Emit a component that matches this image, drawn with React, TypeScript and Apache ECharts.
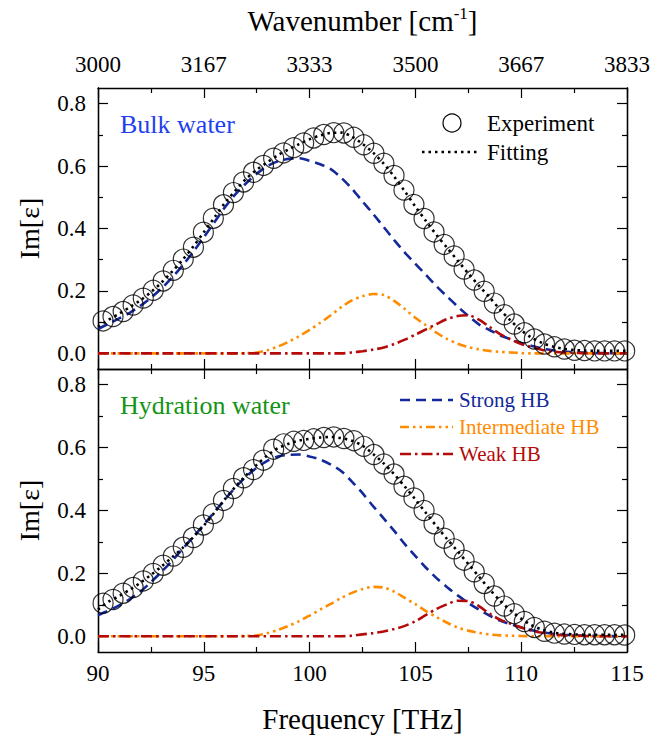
import React, { useEffect, useRef } from 'react';
import * as echarts from 'echarts';

// ---------- data ----------
const freqExp = [
  90.24, 90.71, 91.19, 91.66, 92.14, 92.61, 93.08, 93.56, 94.03, 94.51,
  94.98, 95.45, 95.93, 96.40, 96.88, 97.35, 97.82, 98.30, 98.77, 99.25,
  99.72, 100.19, 100.67, 101.14, 101.62, 102.09, 102.56, 103.04, 103.51, 103.99,
  104.46, 104.93, 105.41, 105.88, 106.36, 106.83, 107.30, 107.78, 108.25, 108.73,
  109.20, 109.67, 110.15, 110.62, 111.10, 111.57, 112.04, 112.52, 112.99, 113.47,
  113.94, 114.41, 114.89,
];
const bulkExp = [
  0.104, 0.118, 0.134, 0.155, 0.177, 0.202, 0.232, 0.266, 0.302, 0.340,
  0.388, 0.433, 0.476, 0.515, 0.549, 0.580, 0.602, 0.625, 0.642, 0.659,
  0.674, 0.690, 0.701, 0.707, 0.706, 0.692, 0.668, 0.641, 0.609, 0.570,
  0.523, 0.477, 0.432, 0.389, 0.349, 0.312, 0.270, 0.235, 0.199, 0.161,
  0.124, 0.094, 0.066, 0.046, 0.030, 0.021, 0.014, 0.010, 0.009, 0.008,
  0.008, 0.008, 0.008,
];
const hydExp = [
  0.105, 0.117, 0.137, 0.155, 0.176, 0.200, 0.226, 0.255, 0.283, 0.314,
  0.354, 0.390, 0.432, 0.470, 0.504, 0.530, 0.560, 0.595, 0.612, 0.620,
  0.623, 0.628, 0.632, 0.634, 0.629, 0.622, 0.604, 0.578, 0.548, 0.516,
  0.477, 0.440, 0.400, 0.358, 0.312, 0.278, 0.242, 0.205, 0.168, 0.128,
  0.096, 0.072, 0.047, 0.028, 0.016, 0.010, 0.007, 0.006, 0.005, 0.005,
  0.005, 0.005, 0.004,
];

const freqFit = [
  90, 90.5, 91, 91.5, 92, 92.5, 93, 93.5, 94, 94.5,
  95, 95.5, 96, 96.5, 97, 97.5, 98, 98.5, 99, 99.5,
  100, 100.5, 101, 101.5, 102, 102.5, 103, 103.5, 104, 104.5,
  105, 105.5, 106, 106.5, 107, 107.5, 108, 108.5, 109, 109.5,
  110, 110.5, 111, 111.5, 112, 112.5, 113, 113.5, 114, 114.5,
  115,
];
const bulkFit = [
  0.085, 0.108, 0.127, 0.148, 0.170, 0.196, 0.227, 0.262, 0.300, 0.342,
  0.388, 0.435, 0.482, 0.522, 0.559, 0.588, 0.612, 0.635, 0.653, 0.670,
  0.686, 0.698, 0.706, 0.707, 0.694, 0.671, 0.643, 0.608, 0.566, 0.519,
  0.470, 0.424, 0.379, 0.338, 0.297, 0.256, 0.217, 0.180, 0.140, 0.105,
  0.074, 0.050, 0.033, 0.022, 0.015, 0.011, 0.009, 0.008, 0.008, 0.008,
  0.008,
];
const bulkStrong = [
  0.078, 0.095, 0.112, 0.130, 0.152, 0.178, 0.208, 0.243, 0.282, 0.325,
  0.372, 0.420, 0.468, 0.510, 0.545, 0.575, 0.600, 0.615, 0.623, 0.625,
  0.617, 0.606, 0.590, 0.562, 0.527, 0.487, 0.447, 0.405, 0.363, 0.323,
  0.287, 0.251, 0.215, 0.182, 0.150, 0.120, 0.093, 0.075, 0.058, 0.045,
  0.033, 0.024, 0.015, 0.010, 0.006, 0.004, 0.002, 0.001, 0.001, 0,
  0,
];
const bulkInter = [
  0, 0, 0, 0, 0, 0, 0, 0, 0, 0,
  0, 0, 0, 0, 0.001, 0.003, 0.010, 0.022, 0.037, 0.055,
  0.075, 0.098, 0.122, 0.148, 0.170, 0.183, 0.190, 0.187, 0.168, 0.142,
  0.114, 0.090, 0.066, 0.046, 0.031, 0.020, 0.013, 0.008, 0.005, 0.003,
  0.001, 0, 0, 0, 0, 0, 0, 0, 0, 0,
  0,
];
const bulkWeak = [
  0, 0, 0, 0, 0, 0, 0, 0, 0, 0,
  0, 0, 0, 0, 0, 0, 0, 0, 0, 0,
  0, 0, 0, 0, 0.003, 0.007, 0.012, 0.019, 0.030, 0.044,
  0.060, 0.077, 0.094, 0.110, 0.120, 0.122, 0.108, 0.085, 0.062, 0.045,
  0.030, 0.020, 0.011, 0.006, 0.003, 0.002, 0.001, 0, 0, 0,
  0,
];
const hydFit = [
  0.085, 0.110, 0.128, 0.148, 0.170, 0.195, 0.222, 0.251, 0.281, 0.315,
  0.352, 0.393, 0.436, 0.476, 0.512, 0.545, 0.575, 0.598, 0.612, 0.622,
  0.628, 0.632, 0.634, 0.630, 0.622, 0.606, 0.580, 0.550, 0.515, 0.476,
  0.435, 0.392, 0.350, 0.309, 0.270, 0.230, 0.190, 0.150, 0.113, 0.082,
  0.056, 0.035, 0.021, 0.012, 0.008, 0.006, 0.005, 0.005, 0.005, 0.005,
  0.004,
];
const hydStrong = [
  0.067, 0.082, 0.098, 0.118, 0.142, 0.172, 0.205, 0.240, 0.278, 0.316,
  0.355, 0.395, 0.435, 0.474, 0.508, 0.536, 0.558, 0.572, 0.577, 0.578,
  0.572, 0.562, 0.546, 0.525, 0.492, 0.455, 0.414, 0.375, 0.335, 0.293,
  0.255, 0.218, 0.185, 0.156, 0.130, 0.106, 0.085, 0.066, 0.050, 0.038,
  0.028, 0.019, 0.013, 0.008, 0.005, 0.003, 0.002, 0.001, 0.001, 0,
  0,
];
const hydInter = [
  0, 0, 0, 0, 0, 0, 0, 0, 0, 0,
  0, 0, 0, 0, 0.001, 0.003, 0.010, 0.020, 0.033, 0.048,
  0.066, 0.085, 0.103, 0.122, 0.138, 0.150, 0.157, 0.155, 0.142, 0.122,
  0.102, 0.080, 0.061, 0.043, 0.028, 0.018, 0.011, 0.006, 0.003, 0.002,
  0.001, 0, 0, 0, 0, 0, 0, 0, 0, 0,
  0,
];
const hydWeak = [
  0, 0, 0, 0, 0, 0, 0, 0, 0, 0,
  0, 0, 0, 0, 0, 0, 0, 0, 0, 0,
  0, 0, 0, 0, 0.002, 0.006, 0.010, 0.015, 0.023, 0.033,
  0.048, 0.068, 0.087, 0.102, 0.113, 0.112, 0.096, 0.072, 0.053, 0.040,
  0.028, 0.018, 0.011, 0.006, 0.003, 0.002, 0.001, 0, 0, 0,
  0,
];

const wavenumberLabels = ['3000', '3167', '3333', '3500', '3667', '3833'];
const yMajor = [0, 0.2, 0.4, 0.6, 0.8];
const yMinor = [0.1, 0.3, 0.5, 0.7];
const panelTitles = ['Bulk water', 'Hydration water'];
const componentNames = ['Strong HB', 'Intermediate HB', 'Weak HB'];

// ---------- styles ----------
const FONT = '"Liberation Serif", "Times New Roman", serif';
const C_STRONG = '#13299a';
const C_INTER = '#ff8c00';
const C_WEAK = '#b40a0a';
const C_BULK = '#1e40f0';
const C_HYD = '#149414';
const DASH_STRONG = [10, 6];
const DASH_INTER = [9, 4, 2.5, 4, 2.5, 4];
const DASH_WEAK = [11, 4, 2.5, 4];
const DASH_FIT = [2.5, 4];

function zip(xs: number[], ys: number[]) {
  return xs.map((x, i) => [x, ys[i]]);
}

export default function App() {
  const ref = useRef<HTMLDivElement>(null);

  useEffect(() => {
    const chart = echarts.init(ref.current!, null, { renderer: 'svg' });
    const tickStyle = { color: '#000', width: 1.2 };
    const axisLine = { show: true, onZero: false, lineStyle: { color: '#000', width: 1.3 } };
    const labelStyle = { color: '#000', fontFamily: FONT, fontSize: 23 };

    const xBase = (gridIndex: number, position: string) => ({
      type: 'value',
      gridIndex,
      position,
      min: 90,
      max: 115,
      interval: 5,
      axisLine,
      axisTick: { show: true, inside: true, length: 10, lineStyle: tickStyle },
      minorTick: { show: true, splitNumber: 2, length: 5, lineStyle: tickStyle },
      splitLine: { show: false },
      minorSplitLine: { show: false },
      axisLabel: { show: false },
    });

    const yBase = (gridIndex: number, position: string, values: number[], len: number, withLabel: boolean) => ({
      type: 'value',
      gridIndex,
      position,
      min: -0.05,
      max: 0.85,
      axisLine,
      axisTick: { show: true, inside: true, length: len, customValues: values, lineStyle: tickStyle },
      splitLine: { show: false },
      axisLabel: withLabel
        ? {
            show: true,
            customValues: yMajor,
            formatter: (v: number) => v.toFixed(1),
            margin: 12,
            ...labelStyle,
          }
        : { show: false },
      ...(withLabel
        ? {
            name: 'Im[ε]',
            nameLocation: 'middle',
            nameRotate: 90,
            nameGap: 55,
            nameTextStyle: { color: '#000', fontFamily: FONT, fontSize: 28 },
          }
        : {}),
    });

    const xAxis = [
      xBase(0, 'bottom'),
      {
        ...xBase(0, 'top'),
        axisLabel: {
          show: true,
          margin: 12,
          showMinLabel: true,
          showMaxLabel: true,
          formatter: (v: number) => wavenumberLabels[Math.round((v - 90) / 5)],
          ...labelStyle,
        },
        name: 'Wavenumber [cm{sup|-1}]',
        nameLocation: 'middle',
        nameGap: 52,
        nameTextStyle: {
          color: '#000',
          fontFamily: FONT,
          fontSize: 29,
          rich: {
            sup: { fontFamily: FONT, fontSize: 17, color: '#000', verticalAlign: 'top', padding: [0, 0, 14, 0] },
          },
        },
      },
      {
        ...xBase(1, 'bottom'),
        axisLabel: {
          show: true,
          margin: 10,
          showMinLabel: true,
          showMaxLabel: true,
          ...labelStyle,
        },
        name: 'Frequency [THz]',
        nameLocation: 'middle',
        nameGap: 52,
        nameTextStyle: { color: '#000', fontFamily: FONT, fontSize: 29 },
      },
      xBase(1, 'top'),
    ];

    const yAxis = [
      yBase(0, 'left', yMajor, 10, true),
      yBase(0, 'left', yMinor, 5, false),
      yBase(0, 'right', yMajor, 10, false),
      yBase(0, 'right', yMinor, 5, false),
      yBase(1, 'left', yMajor, 10, true),
      yBase(1, 'left', yMinor, 5, false),
      yBase(1, 'right', yMajor, 10, false),
      yBase(1, 'right', yMinor, 5, false),
    ];

    const panels = [
      { exp: bulkExp, fit: bulkFit, comps: [bulkStrong, bulkInter, bulkWeak] },
      { exp: hydExp, fit: hydFit, comps: [hydStrong, hydInter, hydWeak] },
    ];
    const compColors = [C_STRONG, C_INTER, C_WEAK];
    const compDash = [DASH_STRONG, DASH_INTER, DASH_WEAK];

    const series: any[] = [];
    panels.forEach((p, pi) => {
      const xi = pi * 2;
      const yi = pi * 4;
      p.comps.forEach((vals, ci) => {
        series.push({
          type: 'line',
          name: componentNames[ci],
          xAxisIndex: xi,
          yAxisIndex: yi,
          data: zip(freqFit, vals),
          smooth: 0.3,
          symbol: 'none',
          z: 2,
          lineStyle: { color: compColors[ci], width: 2.6, type: compDash[ci] },
          itemStyle: { color: compColors[ci] },
        });
      });
      series.push({
        type: 'scatter',
        name: 'Experiment',
        xAxisIndex: xi,
        yAxisIndex: yi,
        data: zip(freqExp, p.exp),
        symbol: 'circle',
        symbolSize: 20,
        z: 3,
        itemStyle: { color: 'rgba(0,0,0,0)', borderColor: '#000', borderWidth: 1.2 },
      });
      series.push({
        type: 'line',
        name: 'Fitting',
        xAxisIndex: xi,
        yAxisIndex: yi,
        data: zip(freqFit, p.fit),
        smooth: 0.3,
        symbol: 'none',
        z: 4,
        lineStyle: { color: '#000', width: 2.6, type: DASH_FIT },
        itemStyle: { color: '#000' },
      });
    });

    const txt = (x: number, y: number, text: string, size: number, fill: string) => ({
      type: 'text',
      x,
      y,
      z: 10,
      style: {
        text,
        fill,
        font: `${size}px ${FONT}`,
        fontFamily: FONT,
        fontSize: size,
        align: 'left',
        verticalAlign: 'middle',
        textAlign: 'left',
        textVerticalAlign: 'middle',
      },
    });
    const legLine = (x1: number, x2: number, y: number, color: string, dash: number[]) => ({
      type: 'line',
      z: 10,
      shape: { x1, y1: y, x2, y2: y },
      style: { stroke: color, lineWidth: 2.6, lineDash: dash },
    });

    const graphic = [
      txt(120, 124, panelTitles[0], 26, C_BULK),
      txt(120, 405, panelTitles[1], 26, C_HYD),
      {
        type: 'circle',
        z: 10,
        shape: { cx: 452, cy: 123, r: 9 },
        style: { fill: 'none', stroke: '#000', lineWidth: 1.2 },
      },
      txt(487, 123, 'Experiment', 23, '#000'),
      legLine(422, 480, 152, '#000', DASH_FIT),
      txt(487, 152, 'Fitting', 23, '#000'),
      legLine(400, 453, 400, C_STRONG, DASH_STRONG),
      txt(459, 400, componentNames[0], 21, C_STRONG),
      legLine(400, 453, 427, C_INTER, DASH_INTER),
      txt(459, 427, componentNames[1], 21, C_INTER),
      legLine(400, 453, 454, C_WEAK, DASH_WEAK),
      txt(459, 454, componentNames[2], 21, C_WEAK),
    ];

    chart.setOption({
      animation: false,
      backgroundColor: '#fff',
      grid: [
        { left: 98, top: 88, width: 529, height: 281 },
        { left: 98, top: 369, width: 529, height: 283 },
      ],
      xAxis,
      yAxis,
      series,
      graphic,
    } as any);

    return () => chart.dispose();
  }, []);

  return (
    <div
      ref={ref}
      style={{ position: 'absolute', left: 0, top: 0, width: 665, height: 737, background: '#fff' }}
    />
  );
}
